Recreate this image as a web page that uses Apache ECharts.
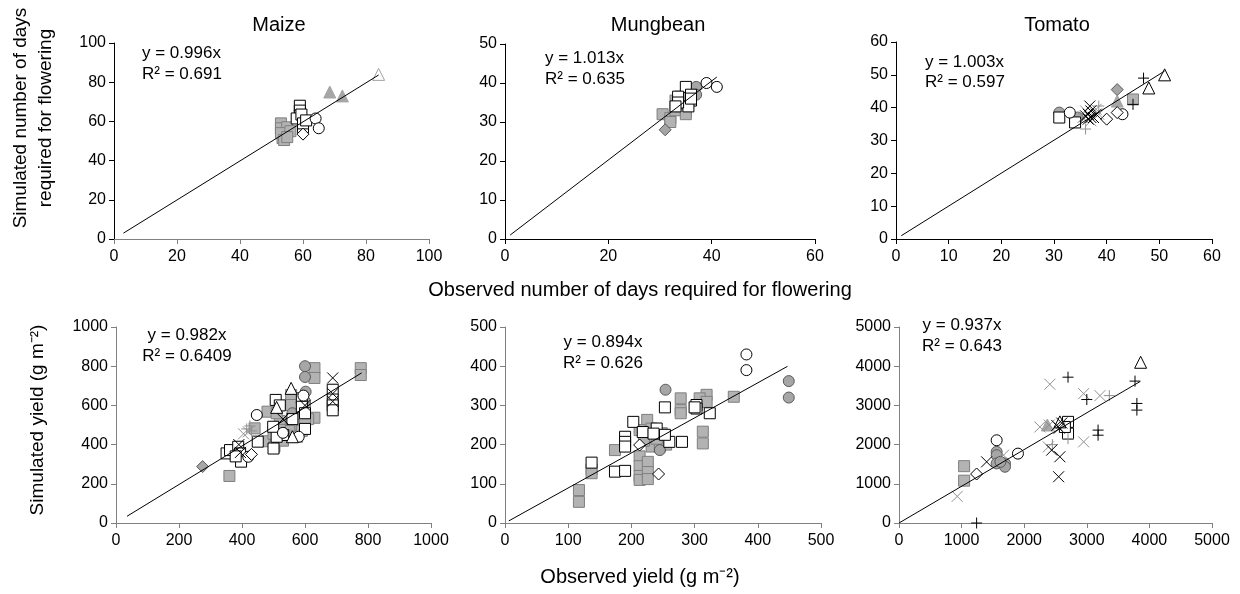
<!DOCTYPE html>
<html><head><meta charset="utf-8">
<script src="https://cdn.jsdelivr.net/npm/echarts/dist/echarts.min.js"></script>
<style>html,body{margin:0;padding:0;background:#fff}#c{width:1240px;height:594px}</style>
</head><body><div id="c"></div>
<script>
// ---------- DATA ----------
const panelTitles = ['Maize', 'Mungbean', 'Tomato'];
const xMax = [100, 60, 60, 1000, 500, 5000];
const xInterval = [20, 20, 10, 200, 100, 1000];
const yMax = [100, 50, 60, 1000, 500, 5000];
const yInterval = [20, 10, 10, 200, 100, 1000];
const slopes = [0.996, 1.013, 1.003, 0.982, 0.894, 0.937];
const r2Labels = ['0.691', '0.635', '0.597', '0.6409', '0.626', '0.643'];
const lineStart = [3, 1, 1, 35, 6, 0];
const lineEnd = [84, 41, 51, 780, 447, 3850];

// Panel 1: Maize, days to flowering
const p1GreySquare = [[53,59],[53,56.5],[53.5,51.5],[54.5,54],[55,57],[53,54],[54,50.5],[56,55],[55,52]];
const p1OpenSquare = [[59,68],[59,65.5],[59,63],[58,61.5],[59.5,63.5],[60,57],[60,59],[61,60.5]];
const p1OpenCircle = [[64,61.5],[65,56.5]];
const p1OpenDiamond = [[60,53.5]];
const p1GreyTriangle = [[68.5,75],[72.5,73]];
const p1OpenTriangleLight = [[84,84]];

// Panel 2: Mungbean, days to flowering
const p2GreySquare = [[30.5,32],[32,31],[33,33],[33,35.5],[34,34],[35,33],[35,32],[34,36.5],[32,30]];
const p2OpenSquare = [[35,39],[36,37],[36,35.5],[35.5,34],[33.5,36.5],[33.5,35],[33,34],[36,36]];
const p2GreyCircle = [[37,39],[37,37]];
const p2OpenCircle = [[39,40],[41,39]];
const p2GreyDiamond = [[31,28]];

// Panel 3: Tomato, days to flowering
const p3OpenTriangle = [[51,50],[48,46]];
const p3GreyTriangle = [[42,42]];
const p3GreyDiamond = [[42,45.5]];
const p3GreySquare = [[45,42.5]];
const p3BlackPlus = [[47,49],[45,41]];
const p3OpenCircle = [[43,38],[33,38.5]];
const p3OpenDiamond = [[42,38.5],[40,36.5]];
const p3GreyCircle = [[31,38.5],[34.5,37]];
const p3OpenSquare = [[31,37],[34,35.5]];
const p3BlackX = [[36.5,38],[37,37],[36,37.5],[37,39],[36.8,40.5],[37.5,37],[36.5,36.5],[38,38]];
const p3GreyX = [[35.5,37],[38.5,38],[37,36],[38,39.5],[36,39]];
const p3GreyPlus = [[36,33.5],[38.5,40.5]];

// Panel 4: Maize, yield
const p4GreyDiamond = [[275,288]];
const p4GreySquare = [[360,240],[630,790],[630,740],[777,790],[777,755],[440,483],[481,568],[481,417],[503,390],[556,653],[556,602],[630,537],[580,537],[568,500],[542,509],[520,520],[510,560],[590,470],[600,590],[610,530],[550,470],[530,420],[500,455],[520,475],[575,440],[600,510]];
const p4GreyCircle = [[600,800],[600,745],[602,670],[600,620],[560,560]];
const p4OpenSquare = [[688,680],[688,630],[688,600],[688,575],[507,628],[450,415],[590,636],[590,593],[531,449],[510,440],[499,491],[351,355],[362,372],[388,389],[394,355],[397,313],[380,340],[600,560],[520,600],[560,530],[600,480],[500,380]];
const p4OpenCircle = [[447,551],[420,338],[595,650],[580,440],[530,460]];
const p4OpenTriangle = [[556,687],[510,590],[560,440]];
const p4GreyTriangle = [[556,449]];
const p4BlackX = [[688,740],[688,660],[688,620],[390,400],[395,360],[600,600],[530,530]];
const p4GreyPlus = [[415,480],[425,495],[430,470]];
const p4GreyX = [[420,465],[405,455]];
const p4OpenDiamond = [[430,350]];

// Panel 5: Mungbean, yield
const p5OpenCircle = [[382,430],[382,390]];
const p5GreyCircle = [[449,362],[449,320],[254,340],[245,186]];
const p5GreySquare = [[362,322],[319,327],[308,318],[319,309],[278,318],[278,288],[278,280],[313,233],[313,203],[225,263],[213,237],[174,186],[232,241],[248,229],[232,195],[245,195],[213,170],[213,145],[213,120],[213,110],[226,156],[226,130],[226,112],[137,137],[137,127],[117,84],[117,54],[190,200],[220,210],[255,200],[240,215]];
const p5OpenSquare = [[303,301],[303,292],[324,280],[253,295],[280,207],[260,207],[203,258],[190,220],[190,207],[190,195],[240,241],[253,225],[174,131],[190,133],[137,154],[218,232],[235,228],[300,295]];
const p5OpenDiamond = [[213,199],[243,125]];

// Panel 6: Tomato, yield
const p6OpenTriangle = [[3860,4100],[2570,2580]];
const p6BlackPlus = [[3770,3620],[3800,3050],[3800,2880],[2700,3720],[3000,3150],[3180,2370],[3180,2240],[1240,0]];
const p6GreyX = [[2410,3540],[2950,3300],[3210,3250],[930,680],[2250,2450],[2385,1940],[1670,1730],[2950,2070],[2400,2500]];
const p6GreyPlus = [[3360,3250],[2700,2150],[2450,2000]];
const p6BlackX = [[2440,1860],[2570,1690],[2550,1180],[1400,1560],[2520,2490],[2560,2420],[2600,2550]];
const p6GreyTriangle = [[2370,2500]];
const p6OpenSquare = [[2700,2580],[2700,2280],[2650,2450]];
const p6GreySquare = [[1040,1450],[1040,1080]];
const p6OpenCircle = [[1560,2110],[1900,1770]];
const p6GreyCircle = [[1560,1815],[1560,1730],[1560,1520],[1693,1520],[1693,1435],[1620,1560]];
const p6OpenDiamond = [[1240,1250]];

const panelSeries = [
  {greySquare:p1GreySquare, openSquare:p1OpenSquare, openCircle:p1OpenCircle, openDiamond:p1OpenDiamond, greyTriangle:p1GreyTriangle, openTriangleLight:p1OpenTriangleLight},
  {greySquare:p2GreySquare, openSquare:p2OpenSquare, greyCircle:p2GreyCircle, openCircle:p2OpenCircle, greyDiamond:p2GreyDiamond},
  {greySquare:p3GreySquare, greyCircle:p3GreyCircle, greyTriangle:p3GreyTriangle, greyDiamond:p3GreyDiamond, openSquare:p3OpenSquare, openCircle:p3OpenCircle, openDiamond:p3OpenDiamond, openTriangle:p3OpenTriangle, greyX:p3GreyX, greyPlus:p3GreyPlus, blackX:p3BlackX, blackPlus:p3BlackPlus},
  {greySquare:p4GreySquare, greyCircle:p4GreyCircle, greyTriangle:p4GreyTriangle, greyDiamond:p4GreyDiamond, openSquare:p4OpenSquare, openCircle:p4OpenCircle, openTriangle:p4OpenTriangle, openDiamond:p4OpenDiamond, greyX:p4GreyX, greyPlus:p4GreyPlus, blackX:p4BlackX},
  {greySquare:p5GreySquare, openSquare:p5OpenSquare, greyCircle:p5GreyCircle, openCircle:p5OpenCircle, openDiamond:p5OpenDiamond},
  {greySquare:p6GreySquare, greyCircle:p6GreyCircle, greyTriangle:p6GreyTriangle, openSquare:p6OpenSquare, openCircle:p6OpenCircle, openTriangle:p6OpenTriangle, openDiamond:p6OpenDiamond, greyX:p6GreyX, greyPlus:p6GreyPlus, blackX:p6BlackX, blackPlus:p6BlackPlus}
];

// ---------- STYLE / LAYOUT ----------
const FONT = '"Liberation Sans", Arial, sans-serif';
const XPATH = 'path://M0,0L10,10M10,0L0,10';
const PPATH = 'path://M5,0L5,10M0,5L10,5';
const styles = {
  greySquare:   {symbol:'rect', size:11, fill:'#b3b3b3', stroke:'#7f7f7f', z:2},
  greyCircle:   {symbol:'circle', size:11, fill:'#a6a6a6', stroke:'#595959', z:3},
  greyTriangle: {symbol:'triangle', size:12, fill:'#a6a6a6', stroke:'#a6a6a6', z:3},
  greyDiamond:  {symbol:'diamond', size:12, fill:'#a6a6a6', stroke:'#595959', z:3},
  openSquare:   {symbol:'rect', size:11, fill:'#ffffff', stroke:'#000000', z:4},
  openCircle:   {symbol:'circle', size:11, fill:'#ffffff', stroke:'#000000', z:4},
  openTriangle: {symbol:'triangle', size:12, fill:'#ffffff', stroke:'#000000', z:4},
  openTriangleLight: {symbol:'triangle', size:12, fill:'#ffffff', stroke:'#a0a0a0', z:4},
  openDiamond:  {symbol:'diamond', size:12, fill:'#ffffff', stroke:'#000000', z:4},
  greyX:        {symbol:XPATH, size:11, fill:'#909090', stroke:'#909090', z:5},
  greyPlus:     {symbol:PPATH, size:11, fill:'#909090', stroke:'#909090', z:5},
  blackX:       {symbol:XPATH, size:11, fill:'#000000', stroke:'#000000', z:6},
  blackPlus:    {symbol:PPATH, size:11, fill:'#000000', stroke:'#000000', z:6}
};
const grids = [
  {left:114, top:43, width:315, height:196},
  {left:505, top:44, width:310, height:195},
  {left:896, top:42, width:316, height:197},
  {left:116, top:327, width:315, height:196},
  {left:505, top:327, width:316, height:196},
  {left:899, top:327, width:313, height:196}
];
const xAxisColor = ['#808080', '#000', '#000', '#808080', '#808080', '#808080'];
const yAxisColor = ['#000', '#000', '#000', '#808080', '#808080', '#808080'];

const chart = echarts.init(document.getElementById('c'), null, {renderer:'canvas'});
const series = [];
panelSeries.forEach((ps, i) => {
  Object.keys(ps).forEach(k => {
    const st = styles[k];
    series.push({type:'scatter', xAxisIndex:i, yAxisIndex:i, data:ps[k], symbol:st.symbol, symbolSize:st.size,
      itemStyle:{color:st.fill, borderColor:st.stroke, borderWidth:1, opacity:1}, z:st.z, silent:true});
  });
  series.push({type:'line', xAxisIndex:i, yAxisIndex:i, symbol:'none', silent:true, z:7,
    lineStyle:{color:'#000', width:1},
    data:[[lineStart[i], slopes[i]*lineStart[i]], [lineEnd[i], slopes[i]*lineEnd[i]]]});
});

const eqPos = [
  {x:142, y1:53, y2:74, align:'left'},
  {x:545, y1:58, y2:79, align:'left'},
  {x:925, y1:62, y2:82, align:'left'},
  {x:187, y1:335, y2:356, align:'center'},
  {x:603, y1:342, y2:363, align:'center'},
  {x:962, y1:325, y2:346, align:'center'}
];
const titleX = [279, 658, 1057];
const graphics = [];
eqPos.forEach((p, i) => {
  graphics.push({type:'text', x:p.x, y:p.y1, silent:true, style:{text:'y = ' + slopes[i].toFixed(3) + 'x', font:'17px ' + FONT, fill:'#000', textAlign:p.align, textVerticalAlign:'middle'}});
  graphics.push({type:'text', x:p.x, y:p.y2, silent:true, style:{text:'R\u00b2 = ' + r2Labels[i], font:'17px ' + FONT, fill:'#000', textAlign:p.align, textVerticalAlign:'middle'}});
});
panelTitles.forEach((t, i) => {
  graphics.push({type:'text', x:titleX[i], y:25, silent:true, style:{text:t, font:'20px ' + FONT, fill:'#000', textAlign:'center', textVerticalAlign:'middle'}});
});
graphics.push({type:'text', x:21, y:118, rotation:Math.PI/2, silent:true, style:{text:'Simulated number of days', font:'19px ' + FONT, fill:'#000', textAlign:'center', textVerticalAlign:'middle'}});
graphics.push({type:'text', x:46, y:118, rotation:Math.PI/2, silent:true, style:{text:'required for flowering', font:'19px ' + FONT, fill:'#000', textAlign:'center', textVerticalAlign:'middle'}});
graphics.push({type:'text', x:38, y:420, rotation:Math.PI/2, silent:true, style:{text:'Simulated yield (g m\u207b\u00b2)', font:'19px ' + FONT, fill:'#000', textAlign:'center', textVerticalAlign:'middle'}});
graphics.push({type:'text', x:640, y:290, silent:true, style:{text:'Observed number of days required for flowering', font:'20px ' + FONT, fill:'#000', textAlign:'center', textVerticalAlign:'middle'}});
graphics.push({type:'text', x:640, y:577, silent:true, style:{text:'Observed yield (g m\u207b\u00b2)', font:'20px ' + FONT, fill:'#000', textAlign:'center', textVerticalAlign:'middle'}});

const plain = v => String(v);
chart.setOption({
  animation:false,
  grid: grids,
  xAxis: grids.map((g, i) => ({gridIndex:i, type:'value', min:0, max:xMax[i], interval:xInterval[i],
    axisLine:{onZero:false, lineStyle:{color:xAxisColor[i], width:1}},
    axisTick:{show:true, length:5, lineStyle:{color:xAxisColor[i]}},
    axisLabel:{color:'#000', fontSize:16, fontFamily:FONT, margin:10, showMinLabel:true, showMaxLabel:true, formatter:plain},
    splitLine:{show:false}})),
  yAxis: grids.map((g, i) => ({gridIndex:i, type:'value', min:0, max:yMax[i], interval:yInterval[i],
    axisLine:{show:true, onZero:false, lineStyle:{color:yAxisColor[i], width:1}},
    axisTick:{show:true, length:5, lineStyle:{color:yAxisColor[i]}},
    axisLabel:{color:'#000', fontSize:16, fontFamily:FONT, margin:8, showMinLabel:true, showMaxLabel:true, formatter:plain},
    splitLine:{show:false}})),
  series: series,
  graphic: graphics
});
</script></body></html>
